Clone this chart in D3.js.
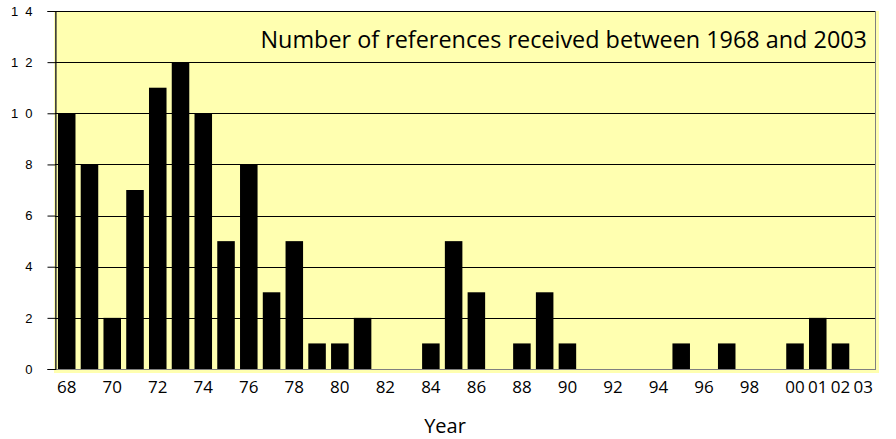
<!DOCTYPE html>
<html>
<head>
<meta charset="utf-8">
<script src="https://cdn.jsdelivr.net/npm/d3@7"></script>
<style>
  body { margin: 0; background: #fff; }
  svg { display: block; }
</style>
</head>
<body>
<script>
// years on the category axis, 1968 .. 2003
var years = d3.range(1968, 2004);
// number of references received each year
var counts = [10, 8, 2, 7, 11, 12, 10, 5, 8, 3, 5, 1, 1, 2, 0, 0, 1, 5, 3, 0,
              1, 3, 1, 0, 0, 0, 0, 1, 0, 1, 0, 0, 1, 2, 1, 0];
// years that get a label under the axis
var labelYears = [1968, 1970, 1972, 1974, 1976, 1978, 1980, 1982, 1984, 1986,
                  1988, 1990, 1992, 1994, 1996, 1998, 2000, 2001, 2002, 2003];
var yTicks = [0, 2, 4, 6, 8, 10, 12, 14];
var title = "Number of references received between 1968 and 2003";
var xTitle = "Year";

var data = years.map(function(y, i) {
  return { year: y, value: counts[i] };
});

var w = 896;
var h = 439;
var margin = { left: 55, right: 21, top: 11, bottom: 70 };

var svg = d3.select("body")
  .append("svg")
  .attr("width", w)
  .attr("height", h);

var xScale = d3.scaleBand()
  .domain(years)
  .range([margin.left, w - margin.right])
  .paddingInner(0.23)
  .paddingOuter(0.13);

var yScale = d3.scaleLinear()
  .domain([0, 14])
  .range([h - margin.bottom, margin.top]);

var plotW = w - margin.right - margin.left;
var plotB = h - margin.bottom;

// yellow plot background (runs a little past the frame, as in the original)
svg.append("rect")
  .attr("x", margin.left - 1)
  .attr("y", margin.top)
  .attr("width", plotW + 5)
  .attr("height", plotB - margin.top + 4)
  .attr("fill", "#ffffb0");

// frame
svg.append("rect")
  .attr("x", margin.left + 0.5)
  .attr("y", margin.top + 0.5)
  .attr("width", plotW)
  .attr("height", plotB - margin.top)
  .attr("fill", "none")
  .attr("stroke", "#808080")
  .attr("stroke-width", 1);

// gridlines
svg.append("g")
  .selectAll("line")
  .data(yTicks.filter(function(d) { return d > 0; }))
  .enter()
  .append("line")
  .attr("x1", margin.left)
  .attr("x2", w - margin.right)
  .attr("y1", function(d) { return Math.round(yScale(d)) + 0.5; })
  .attr("y2", function(d) { return Math.round(yScale(d)) + 0.5; })
  .attr("stroke", "#000")
  .attr("stroke-width", 1);

// bars
svg.append("g")
  .selectAll("rect")
  .data(data.filter(function(d) { return d.value > 0; }))
  .enter()
  .append("rect")
  .attr("x", function(d) { return xScale(d.year); })
  .attr("width", xScale.bandwidth())
  .attr("y", function(d) { return yScale(d.value); })
  .attr("height", function(d) { return plotB - yScale(d.value); })
  .attr("fill", "#000");

// y axis, digits spaced apart like the original ("1 4")
var yAxis = d3.axisLeft(yScale)
  .tickValues(yTicks)
  .tickSize(8)
  .tickPadding(15)
  .tickFormat(function(d) { return String(d).split("").join(" "); });

var gy = svg.append("g")
  .attr("transform", "translate(" + (margin.left + 0.5) + ",0)")
  .call(yAxis);
gy.select(".domain").attr("stroke", "#000");
gy.selectAll(".tick line").attr("stroke", "#000");
gy.selectAll(".tick text")
  .attr("font-family", "'Liberation Sans', Arial, sans-serif")
  .attr("font-size", 13)
  .attr("fill", "#000")
  .attr("word-spacing", 3.5);

// x axis: labels only
var xAxis = d3.axisBottom(xScale)
  .tickValues(labelYears)
  .tickSize(0)
  .tickPadding(12)
  .tickFormat(function(d) { return String(d).slice(2); });

var gx = svg.append("g")
  .attr("transform", "translate(0," + plotB + ")")
  .call(xAxis);
gx.select(".domain").remove();
gx.selectAll(".tick text")
  .attr("font-family", "'Open Sans', sans-serif")
  .attr("font-size", 17)
  .attr("fill", "#000");

// axis title
svg.append("text")
  .attr("x", 445)
  .attr("y", 433)
  .attr("text-anchor", "middle")
  .attr("font-family", "'Open Sans', sans-serif")
  .attr("font-size", 20)
  .attr("fill", "#000")
  .text(xTitle);

// chart title inside the plot
svg.append("text")
  .attr("x", 867)
  .attr("y", 47.5)
  .attr("text-anchor", "end")
  .attr("font-family", "'Open Sans', sans-serif")
  .attr("font-size", 23.4)
  .attr("fill", "#000")
  .text(title);
</script>
</body>
</html>
